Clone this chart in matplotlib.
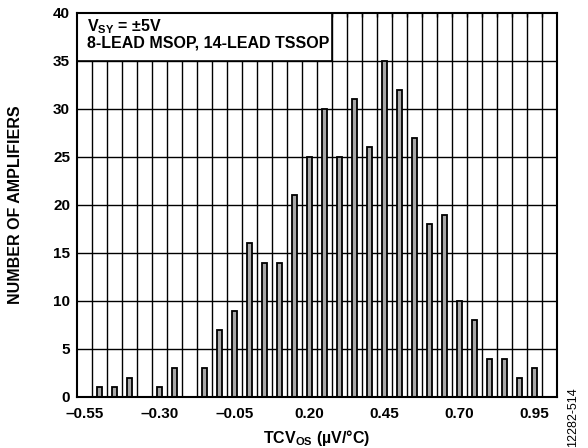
import matplotlib.pyplot as plt
import numpy as np
from matplotlib.patches import Rectangle

plt.rcParams['font.family'] = ['Liberation Sans', 'DejaVu Sans']
plt.rcParams['mathtext.fontset'] = 'custom'
plt.rcParams['mathtext.rm'] = 'Liberation Sans:bold'
plt.rcParams['mathtext.bf'] = 'Liberation Sans:bold'
plt.rcParams['mathtext.it'] = 'Liberation Sans:bold'

# TCVos histogram bins (µV/°C) and counts
tcvos = [-0.55, -0.50, -0.45, -0.40, -0.35, -0.30, -0.25, -0.20, -0.15, -0.10,
         -0.05, 0.00, 0.05, 0.10, 0.15, 0.20, 0.25, 0.30, 0.35, 0.40,
         0.45, 0.50, 0.55, 0.60, 0.65, 0.70, 0.75, 0.80, 0.85, 0.90, 0.95]
counts = [0, 1, 1, 2, 0, 1, 3, 0, 3, 7,
          9, 16, 14, 14, 21, 25, 30, 25, 31, 26,
          35, 32, 27, 18, 19, 10, 8, 4, 4, 2, 3]
x_ticks = [-0.55, -0.30, -0.05, 0.20, 0.45, 0.70, 0.95]
x_tick_labels = ['\u20130.55', '\u20130.30', '\u20130.05', '0.20', '0.45', '0.70', '0.95']
y_ticks = [0, 5, 10, 15, 20, 25, 30, 35, 40]

fig = plt.figure(figsize=(5.88, 4.48), dpi=100)
ax = fig.add_axes([0.131, 0.114, 0.816, 0.857])

x = np.array(tcvos)
y = np.array(counts)
nz = y > 0
ax.bar(x[nz], y[nz], width=0.018, color='#a8a8a8', edgecolor='black',
       linewidth=1.3, zorder=3)

ax.set_xlim(-0.575, 1.025)
ax.set_ylim(0, 40)

# grid on bin edges / every 5 counts
edges = np.arange(-0.525, 1.0, 0.05)
for e in edges:
    ax.axvline(e, color='black', linewidth=1.0, zorder=1)
for t in y_ticks[1:-1]:
    ax.axhline(t, color='black', linewidth=1.0, zorder=1)

ax.set_xticks(x_ticks)
ax.set_xticklabels(x_tick_labels, fontweight='bold', fontsize=11)
ax.set_yticks(y_ticks)
ax.set_yticklabels([str(v) for v in y_ticks], fontweight='bold', fontsize=11)
ax.tick_params(axis='x', length=0, pad=7)
ax.tick_params(axis='y', length=0, pad=5)

# small inward ticks along the top spine
ax.set_xticks(edges, minor=True)
ax.tick_params(axis='x', which='minor', top=True, bottom=False, direction='in',
               length=3, width=1.0)

for s in ax.spines.values():
    s.set_linewidth(1.5)
    s.set_zorder(5)

# legend box in the top-left corner
ax.add_patch(Rectangle((-0.575, 35), 0.85, 5, facecolor='white',
                       edgecolor='black', linewidth=1.2, zorder=4))
ax.text(-0.543, 38.6, r'$\mathbf{V_{SY}}$ = ±5V', fontsize=11.5,
        fontweight='bold', va='center', ha='left', zorder=6)
ax.text(-0.543, 36.9, '8-LEAD MSOP, 14-LEAD TSSOP', fontsize=11.5,
        fontweight='bold', va='center', ha='left', zorder=6)

ax.set_xlabel(r'TCV$_{\mathbf{OS}}$ (µV/°C)', fontweight='bold', fontsize=11.5,
              labelpad=5)
ax.set_ylabel('NUMBER OF AMPLIFIERS', fontweight='bold', fontsize=11.5,
              labelpad=22)

fig.text(0.974, 0.003, '12282-514', rotation=90, fontsize=9,
         ha='center', va='bottom')

fig.savefig('out.png', dpi=100)
plt.close(fig)
